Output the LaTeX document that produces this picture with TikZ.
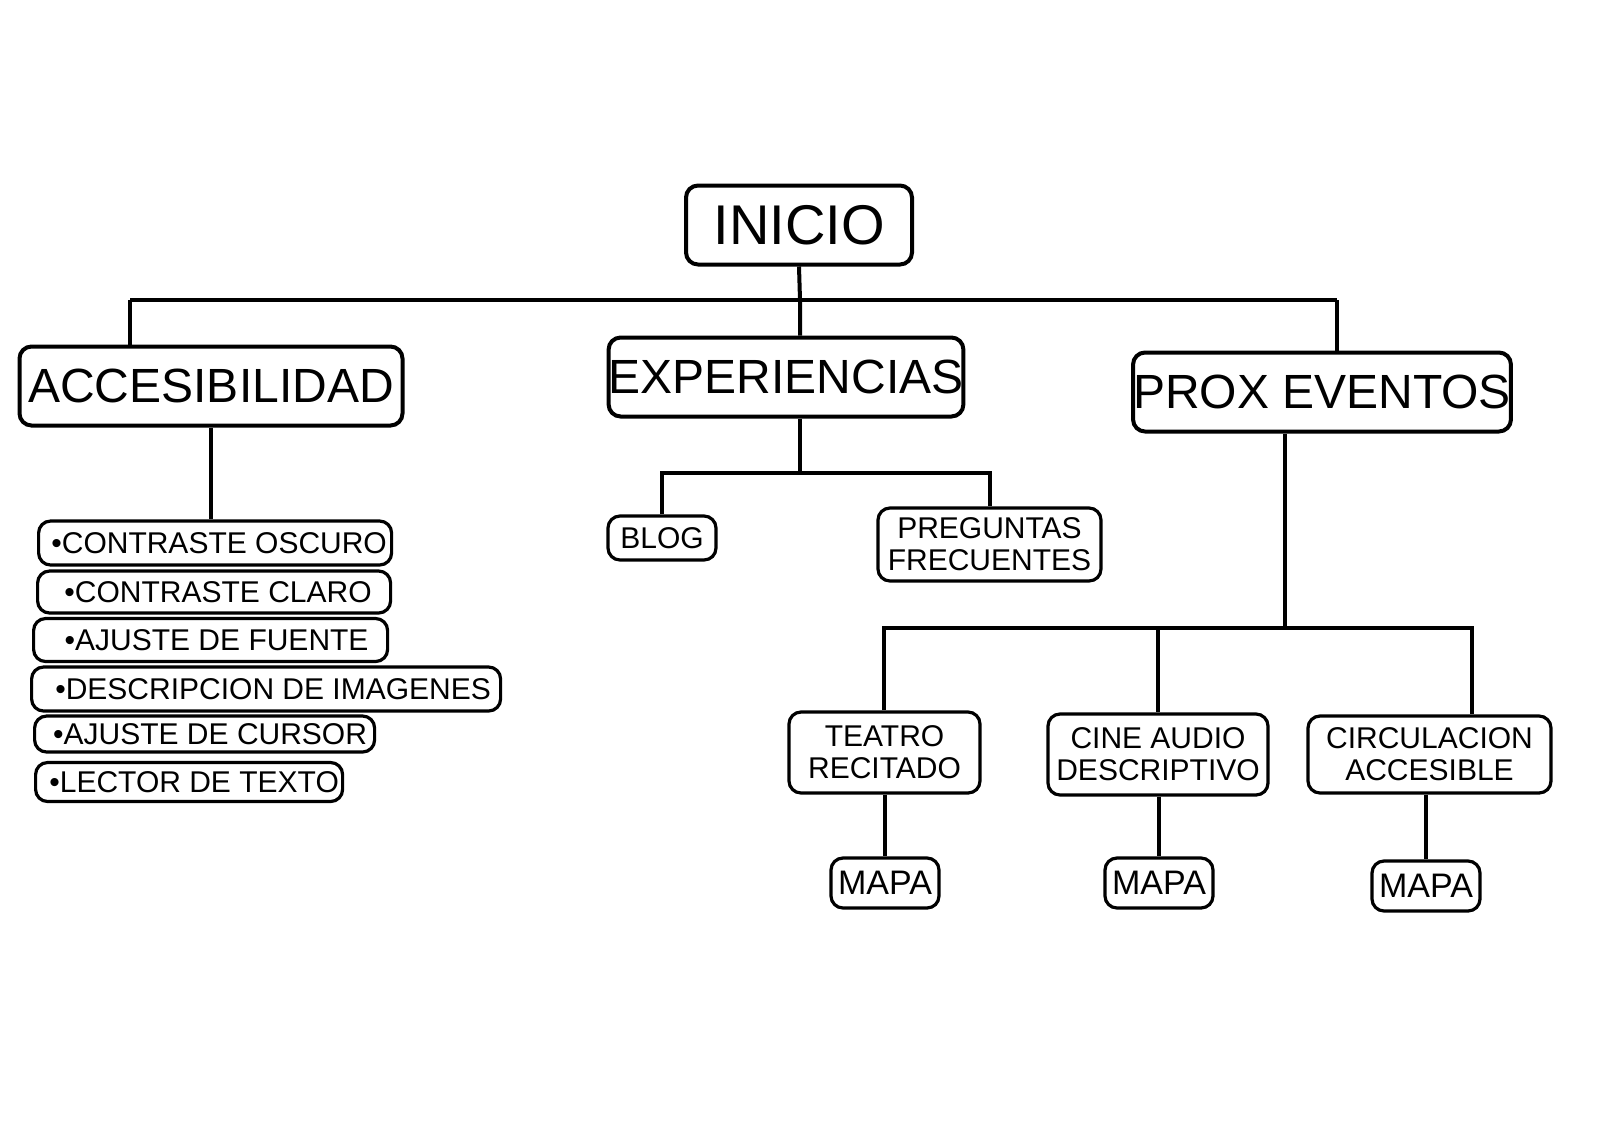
\documentclass[tikz,border=0pt]{standalone}
\usepackage{fontspec}
\setmainfont{Liberation Sans}
\begin{document}
\begin{tikzpicture}[x=0.5pt,y=-0.5pt,
 big/.style={draw,line width=2pt,rounded corners=6pt,inner sep=0pt,font=\fontsize{24}{26}\selectfont},
 mid/.style={draw,line width=1.6pt,rounded corners=6pt,inner sep=0pt,align=center,font=\fontsize{15}{16}\selectfont},
 item/.style={draw,line width=1.6pt,rounded corners=6pt,inner sep=0pt,anchor=west,align=left,font=\fontsize{15}{16}\selectfont},
 ln/.style={line width=2pt}]
\useasboundingbox (0,0) rectangle (1600,1131);
\node[big,minimum width=113pt,minimum height=39.5pt,font=\fontsize{28}{30}\selectfont] (ini) at (799,225) {INICIO};
\node[big,minimum width=191.5pt,minimum height=39.5pt] (acc) at (211,386) {ACCESIBILIDAD};
\node[big,minimum width=176pt,minimum height=39.5pt] (exp) at (786,377) {EXPERIENCIAS};
\node[big,minimum width=187pt,minimum height=39.5pt] (prox) at (1322,392) {PROX EVENTOS};
\coordinate (bl) at (130,300); \coordinate (bm) at (800,300); \coordinate (br) at (1337,300);
\draw[ln] (ini.south) -- (bm) -- (exp.north -| bm);
\draw[ln] (bl) -- (br);
\draw[ln] (bl) -- (acc.north -| bl);
\draw[ln] (br) -- (prox.north -| br);
% items
\node[item,minimum width=176.5pt,minimum height=22pt] (i1) at (37,543) {\hspace{4pt}•CONTRASTE OSCURO};
\node[item,minimum width=176.5pt,minimum height=21pt] (i2) at (36,592) {\hspace{4pt}•CONTRASTE CLARO};
\node[item,minimum width=177pt,minimum height=21.5pt] (i3) at (32,640) {\hspace{6pt}•AJUSTE DE FUENTE};
\node[item,minimum width=234.5pt,minimum height=22pt] (i4) at (30,689) {\hspace{7pt}•DESCRIPCION DE IMAGENES};
\node[item,minimum width=170pt,minimum height=18pt] (i5) at (33,734) {\hspace{5.5pt}•AJUSTE DE CURSOR};
\node[item,minimum width=153.5pt,minimum height=19.5pt] (i6) at (34,782) {\hspace{5pt}•LECTOR DE TEXTO};
\draw[ln] (acc.south) -- (acc.south |- i1.north);
% experiencias
\node[mid,minimum width=54pt,minimum height=22pt] (blog) at (662,538) {BLOG};
\node[mid,minimum width=111.5pt,minimum height=36.5pt] (preg) at (989.5,544.5) {PREGUNTAS\\FRECUENTES};
\coordinate (el) at (662,473); \coordinate (er) at (990,473); \coordinate (em) at (800,473);
\draw[ln] (exp.south -| em) -- (em);
\draw[ln] (blog.north) -- (el) -- (er) -- (preg.north -| er);
% prox
\node[mid,minimum width=95.5pt,minimum height=40.5pt] (tea) at (884.5,752.5) {TEATRO\\RECITADO};
\node[mid,minimum width=110pt,minimum height=40.5pt] (cine) at (1158,754.5) {CINE AUDIO\\DESCRIPTIVO};
\node[mid,minimum width=121.5pt,minimum height=38.5pt] (circ) at (1429.5,754.5) {CIRCULACION\\ACCESIBLE};
\coordinate (pl) at (884,628); \coordinate (pm) at (1285,628); \coordinate (pc) at (1158,628); \coordinate (pr) at (1472,628);
\draw[ln] (prox.south -| pm) -- (pm);
\draw[ln] (tea.north -| pl) -- (pl) -- (pr) -- (circ.north -| pr);
\draw[ln] (pc) -- (cine.north -| pc);
\node[mid,minimum width=54pt,minimum height=25pt,font=\fontsize{17}{18}\selectfont] (m1) at (885,883) {MAPA};
\node[mid,minimum width=54pt,minimum height=25pt,font=\fontsize{17}{18}\selectfont] (m2) at (1159,883) {MAPA};
\node[mid,minimum width=54pt,minimum height=25pt,font=\fontsize{17}{18}\selectfont] (m3) at (1426,886) {MAPA};
\draw[ln] (tea.south -| m1) -- (m1.north);
\draw[ln] (cine.south -| m2) -- (m2.north);
\draw[ln] (circ.south -| m3) -- (m3.north);
\end{tikzpicture}
\end{document}
